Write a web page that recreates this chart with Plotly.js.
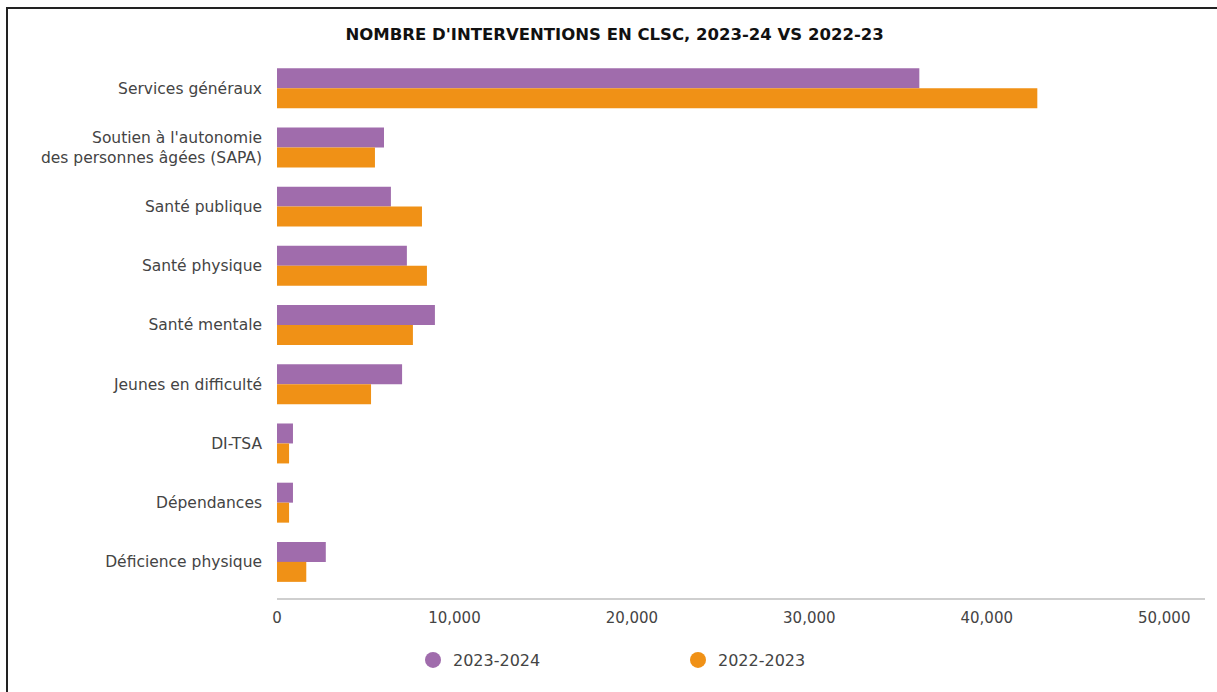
<!DOCTYPE html>
<html>
<head>
<meta charset="utf-8">
<script src="https://cdn.plot.ly/plotly-3.0.1.min.js"></script>
<style>
  html, body { margin: 0; padding: 0; background: #fff; }
  #wrap { position: relative; width: 1217px; height: 692px; }
  #chart { position: absolute; left: 0; top: 0; width: 1217px; height: 692px; }
  #frame { position: absolute; left: 6px; top: 7px; width: 1211px; height: 685px;
           border-left: 2px solid #222; border-top: 2px solid #222; box-sizing: border-box;
           pointer-events: none; }
</style>
</head>
<body>
<div id="wrap">
  <div id="chart"></div>
  <div id="frame"></div>
</div>
<script>
const categories = [
  "Services généraux",
  "Soutien à l'autonomie<br>des personnes âgées (SAPA)",
  "Santé publique",
  "Santé physique",
  "Santé mentale",
  "Jeunes en difficulté",
  "DI-TSA",
  "Dépendances",
  "Déficience physique"
];
const values2324 = [36200, 6030, 6420, 7320, 8900, 7050, 900, 900, 2750];
const values2223 = [42850, 5520, 8170, 8450, 7660, 5300, 680, 680, 1650];
const seriesNames = ["2023-2024", "2022-2023"];
const tickVals = [0, 10000, 20000, 30000, 40000, 50000];

const purple = "#A06CAC";
const orange = "#F09116";
const FONT = "'DejaVu Sans', sans-serif";

const data = [
  { type: "bar", orientation: "h", name: seriesNames[0], y: categories, x: values2324,
    marker: { color: purple }, showlegend: false, hoverinfo: "x+y" },
  { type: "bar", orientation: "h", name: seriesNames[1], y: categories, x: values2223,
    marker: { color: orange }, showlegend: false, hoverinfo: "x+y" },
  { type: "scatter", mode: "markers", name: seriesNames[0], x: [null], y: [null],
    marker: { color: purple, size: 18, symbol: "circle" }, showlegend: true },
  { type: "scatter", mode: "markers", name: seriesNames[1], x: [null], y: [null],
    marker: { color: orange, size: 18, symbol: "circle" }, showlegend: true }
];

const layout = {
  width: 1217, height: 692,
  margin: { l: 277, r: 12, t: 58, b: 94 },
  paper_bgcolor: "#fff", plot_bgcolor: "#fff",
  font: { family: FONT, color: "#444", size: 15 },
  title: {
    text: "NOMBRE D'INTERVENTIONS EN CLSC, 2023-24 VS 2022-23",
    font: { family: FONT, size: 16.5, color: "#111", weight: "bold" },
    x: 0.505, xanchor: "center", y: 0.951, yanchor: "middle"
  },
  barmode: "group",
  bargap: 0.325,
  bargroupgap: 0,
  xaxis: {
    range: [0, 52300],
    tickvals: tickVals,
    tickformat: ",",
    showgrid: false, zeroline: false,
    showline: true, linecolor: "#cfcfcf", linewidth: 2,
    ticks: "", tickfont: { family: FONT, size: 15, color: "#444" },
    ticklabelstandoff: 5
  },
  yaxis: {
    type: "category",
    range: [8.61, -0.51],
    autorange: false,
    showgrid: false, zeroline: false, showline: false,
    ticks: "", ticklabelstandoff: 14,
    tickfont: { family: FONT, size: 15.5, color: "#444" }
  },
  legend: {
    orientation: "h",
    x: (413 - 277) / 928, xanchor: "left",
    y: (598 - 660) / 540, yanchor: "middle",
    entrywidth: 220, entrywidthmode: "pixels",
    font: { family: FONT, size: 16, color: "#444" },
    itemsizing: "trace"
  },
  showlegend: true
};

Plotly.newPlot("chart", data, layout, { displayModeBar: false, staticPlot: true });
</script>
</body>
</html>
